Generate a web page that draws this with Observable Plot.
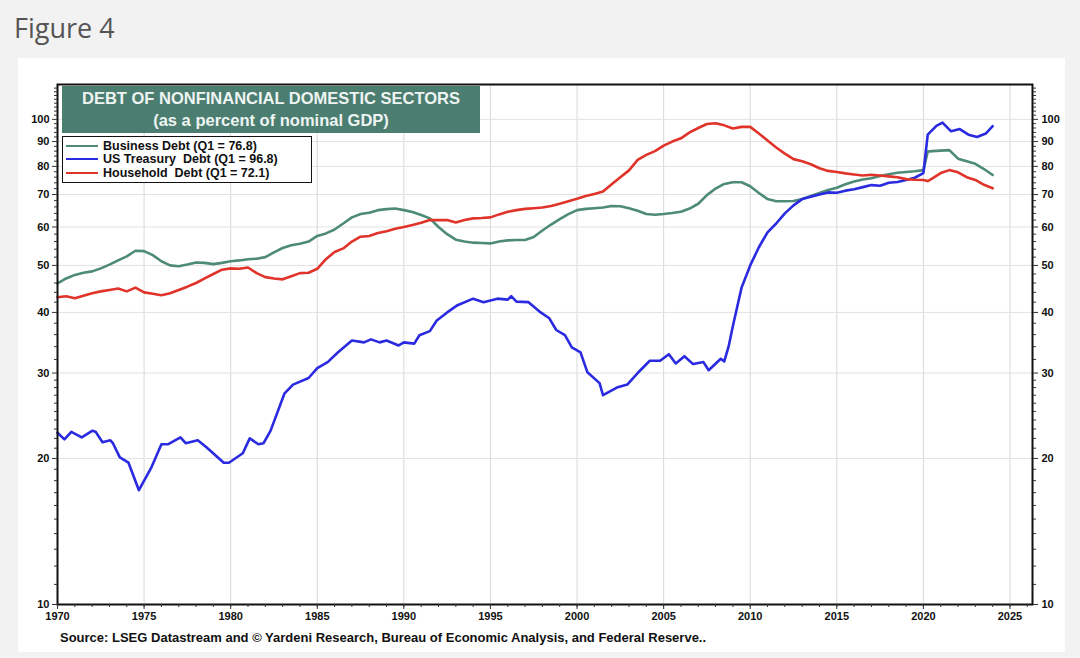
<!DOCTYPE html>
<html>
<head>
<meta charset="utf-8">
<script src="https://cdn.jsdelivr.net/npm/d3@7"></script>
<script src="https://cdn.jsdelivr.net/npm/@observablehq/plot@0.6"></script>
<style>
  html, body { margin: 0; padding: 0; }
  body { width: 1080px; height: 658px; overflow: hidden; position: relative; background: #f2f2f2; font-family: "Liberation Sans", Arial, sans-serif; }
  #fig { position: absolute; left: 14px; top: 9px; font-family: "Open Sans", sans-serif; font-size: 27px; color: #555; }
  #panel { position: absolute; left: 18px; top: 58px; width: 1047px; height: 594px; background: #fff; }
  #chart { position: absolute; left: 0; top: 0; }
  #titlebox { position: absolute; left: 44px; top: 28px; width: 418px; height: 47px; background: #4b7d71; color: #eef4f2; font-weight: bold; font-size: 16.5px; text-align: center; line-height: 22px; padding-top: 1px; box-sizing: border-box; z-index: 2; }
  #legend { position: absolute; left: 44px; top: 78px; width: 250px; height: 47px; background: #fff; border: 1.5px solid #111; box-sizing: border-box; z-index: 2; padding-top: 2px; }
  .item { display: flex; align-items: center; height: 13.5px; font-weight: bold; font-size: 12.5px; color: #111; white-space: pre; }
  .sw { width: 32px; height: 0; border-top: 2.5px solid; margin: 0 5px 0 3px; }
  #source { position: absolute; left: 42px; top: 572px; font-weight: bold; font-size: 13px; color: #111; z-index: 2; }
</style>
</head>
<body>
<div id="fig">Figure 4</div>
<div id="panel">
  <div id="chart"></div>
  <div id="titlebox">DEBT OF NONFINANCIAL DOMESTIC SECTORS<br>(as a percent of nominal GDP)</div>
  <div id="legend"></div>
  <div id="source">Source: LSEG Datastream and © Yardeni Research, Bureau of Economic Analysis, and Federal Reserve..</div>
</div>
<script>
// ---- Series names, colours and legend labels ----
const seriesNames = ["Business Debt", "US Treasury Debt", "Household Debt"];
const legendLabels = ["Business Debt (Q1 = 76.8)", "US Treasury  Debt (Q1 = 96.8)", "Household  Debt (Q1 = 72.1)"];
const seriesColors = ["#4e8a78", "#2a2ae0", "#e0332a"];

// ---- Tick labels ----
const xTickYears = [1970, 1975, 1980, 1985, 1990, 1995, 2000, 2005, 2010, 2015, 2020, 2025];
const yTickValues = [10, 20, 30, 40, 50, 60, 70, 80, 90, 100];

// ---- Data (percent of nominal GDP) ----
const halfYears = [1970,1970.5,1971,1971.5,1972,1972.5,1973,1973.5,1974,1974.5,
  1975,1975.5,1976,1976.5,1977,1977.5,1978,1978.5,1979,1979.5,
  1980,1980.5,1981,1981.5,1982,1982.5,1983,1983.5,1984,1984.5,
  1985,1985.5,1986,1986.5,1987,1987.5,1988,1988.5,1989,1989.5,
  1990,1990.5,1991,1991.5,1992,1992.5,1993,1993.5,1994,1994.5,
  1995,1995.5,1996,1996.5,1997,1997.5,1998,1998.5,1999,1999.5,
  2000,2000.5,2001,2001.5,2002,2002.5,2003,2003.5,2004,2004.5,
  2005,2005.5,2006,2006.5,2007,2007.5,2008,2008.5,2009,2009.5,
  2010,2010.5,2011,2011.5,2012,2012.5,2013,2013.5,2014,2014.5,
  2015,2015.5,2016,2016.5,2017,2017.5,2018,2018.5,2019,2019.5,
  2020,2020.25,2020.5,2021,2021.5,2022,2022.5,2023,2023.5,2024];

const businessDebt = [45.9,47.0,47.8,48.3,48.6,49.3,50.2,51.2,52.2,53.6,
  53.5,52.5,51.0,50.0,49.8,50.2,50.7,50.6,50.3,50.6,
  51.0,51.2,51.5,51.6,52.0,53.2,54.3,55.0,55.4,56.0,
  57.5,58.2,59.3,61.0,62.8,63.8,64.2,65.0,65.3,65.5,
  65.0,64.4,63.5,62.5,60.0,58.0,56.5,56.0,55.7,55.6,
  55.5,56.0,56.3,56.4,56.4,57.2,59.0,60.7,62.3,63.8,
  65.0,65.4,65.6,65.8,66.3,66.2,65.6,64.8,63.8,63.6,
  63.8,64.1,64.5,65.5,67.0,69.8,72.0,73.6,74.2,74.2,
  72.8,70.5,68.5,67.8,67.8,67.9,68.5,69.5,70.5,71.5,
  72.3,73.5,74.5,75.2,75.6,76.4,77.1,77.6,77.9,78.2,
  78.6,85.8,86.0,86.2,86.4,83.0,82.0,81.0,79.0,76.8];

const householdDebt = [43.0,43.2,42.8,43.3,43.8,44.2,44.5,44.8,44.2,45.0,
  44.0,43.7,43.4,43.8,44.5,45.2,46.0,47.0,48.0,49.0,
  49.3,49.2,49.5,48.2,47.3,47.0,46.8,47.5,48.2,48.3,
  49.2,51.5,53.3,54.2,56.0,57.3,57.5,58.3,58.8,59.5,
  60.0,60.6,61.2,62.0,62.0,62.0,61.3,62.0,62.5,62.6,
  62.8,63.7,64.5,65.0,65.4,65.6,65.8,66.3,67.0,67.8,
  68.6,69.5,70.2,71.0,73.5,76.0,78.5,82.5,84.5,86.0,
  88.3,90.0,91.4,94.0,96.0,97.8,98.2,97.2,95.8,96.5,
  96.5,93.5,90.5,87.5,85.0,82.8,82.0,80.8,79.3,78.3,
  77.9,77.4,77.0,76.6,76.9,76.6,76.3,76.0,75.3,75.1,
  75.0,74.6,75.5,77.5,78.6,77.8,76.0,75.0,73.3,72.1];

const treasuryYears = [1970,1970.4,1970.8,1971.4,1972,1972.2,1972.6,1973.05,1973.2,1973.6,
  1974.1,1974.7,1975.4,1976,1976.4,1977.1,1977.4,1978.1,1978.6,1979.6,
  1979.9,1980.7,1981.1,1981.6,1981.9,1982.3,1983.1,1983.6,1984.5,1985,
  1985.6,1986.2,1987,1987.7,1988.1,1988.6,1989,1989.7,1990,1990.6,
  1990.9,1991.5,1991.9,1992.5,1993.1,1994,1994.6,1995.4,1996,1996.2,
  1996.5,1997.2,1997.9,1998.4,1998.8,1999.3,1999.7,2000.2,2000.6,2001.3,
  2001.5,2002.3,2002.9,2003.5,2004.2,2004.8,2005.3,2005.7,2006.2,2006.7,
  2007.3,2007.6,2008.3,2008.5,2008.75,2009,2009.5,2010,2010.5,2011,
  2011.5,2012,2012.5,2013,2013.5,2014,2014.5,2015,2015.5,2016,
  2016.5,2017,2017.5,2018,2018.5,2019,2019.5,2020,2020.25,2020.75,
  2021.1,2021.6,2022.1,2022.6,2023.1,2023.6,2024];
const treasuryDebt = [22.6,21.9,22.7,22.1,22.8,22.7,21.6,21.8,21.5,20.1,
  19.6,17.2,19.1,21.4,21.4,22.1,21.5,21.8,21.1,19.6,
  19.6,20.5,22.0,21.4,21.5,22.8,27.2,28.4,29.3,30.7,
  31.6,33.1,35.0,34.7,35.2,34.7,35.0,34.2,34.7,34.5,
  35.9,36.6,38.5,40.0,41.4,42.7,42.0,42.7,42.5,43.2,
  42.1,42.0,40.0,38.9,36.8,35.9,33.9,33.1,30.1,28.6,
  27.0,28.0,28.4,30.0,31.8,31.8,32.8,31.4,32.5,31.3,
  31.6,30.4,32.1,31.7,34.0,37.5,45.0,50.0,54.5,58.5,
  61.0,64.0,66.5,68.5,69.3,70.0,70.7,70.6,71.3,71.8,
  72.5,73.2,73.0,74.0,74.3,75.0,75.8,77.5,93.0,97.0,
  98.5,94.5,95.5,93.0,92.0,93.5,96.8];

// ---- Build tidy table for Plot ----
const rows = [];
halfYears.forEach((yr, i) => rows.push({series: seriesNames[0], year: yr, value: businessDebt[i]}));
treasuryYears.forEach((yr, i) => rows.push({series: seriesNames[1], year: yr, value: treasuryDebt[i]}));
halfYears.forEach((yr, i) => rows.push({series: seriesNames[2], year: yr, value: householdDebt[i]}));

const minorYears = d3.range(1970, 2027, 1);
const minorY = [11,12,13,14,15,16,17,18,19,21,22,23,24,25,26,27,28,29,32,34,36,38,42,44,46,48,52,54,56,58,62,64,66,68,72,74,76,78,82,84,86,88,92,94,96,98,102,104,106,108,110,112,114,116];

const axisFont = {fontWeight: "bold", fontSize: 11, fill: "#111"};

const chart = Plot.plot({
  width: 1047,
  height: 576,
  marginLeft: 39,
  marginRight: 33,
  marginTop: 26,
  marginBottom: 30,
  style: {fontFamily: "'Liberation Sans', Arial, sans-serif", background: "transparent", overflow: "visible"},
  x: {domain: [1970, 2026.3]},
  y: {type: "log", domain: [10, 118]},
  color: {domain: seriesNames, range: seriesColors},
  marks: [
    Plot.gridX(xTickYears, {stroke: "#d8d8d8", strokeOpacity: 1, strokeWidth: 1}),
    Plot.gridY(yTickValues, {stroke: "#e2e2e2", strokeOpacity: 1, strokeWidth: 1}),
    Plot.line(rows, {x: "year", y: "value", z: "series", stroke: "series", strokeWidth: 2.6, strokeLinejoin: "round"}),
    Plot.frame({stroke: "#111", strokeWidth: 2}),
    Plot.axisX(minorYears, {tickSize: 3, tickFormat: () => "", label: null, stroke: "#333"}),
    Plot.axisX(xTickYears, {tickSize: 5, tickPadding: 3, tickFormat: d => String(d), label: null, stroke: "#333", ...axisFont}),
    Plot.axisY(minorY, {anchor: "left", tickSize: 3, tickFormat: () => "", label: null, stroke: "#333"}),
    Plot.axisY(minorY, {anchor: "right", tickSize: 3, tickFormat: () => "", label: null, stroke: "#333"}),
    Plot.axisY(yTickValues, {anchor: "left", tickSize: 5, tickPadding: 3, tickFormat: d => String(d), label: null, stroke: "#333", ...axisFont}),
    Plot.axisY(yTickValues, {anchor: "right", tickSize: 5, tickPadding: 4, tickFormat: d => String(d), label: null, stroke: "#333", ...axisFont})
  ]
});
document.getElementById("chart").appendChild(chart);

// ---- Legend ----
const legend = document.getElementById("legend");
legendLabels.forEach((lab, i) => {
  const item = document.createElement("div");
  item.className = "item";
  const sw = document.createElement("span");
  sw.className = "sw";
  sw.style.borderTopColor = seriesColors[i];
  const t = document.createElement("span");
  t.textContent = lab;
  item.appendChild(sw);
  item.appendChild(t);
  legend.appendChild(item);
});
</script>
</body>
</html>
